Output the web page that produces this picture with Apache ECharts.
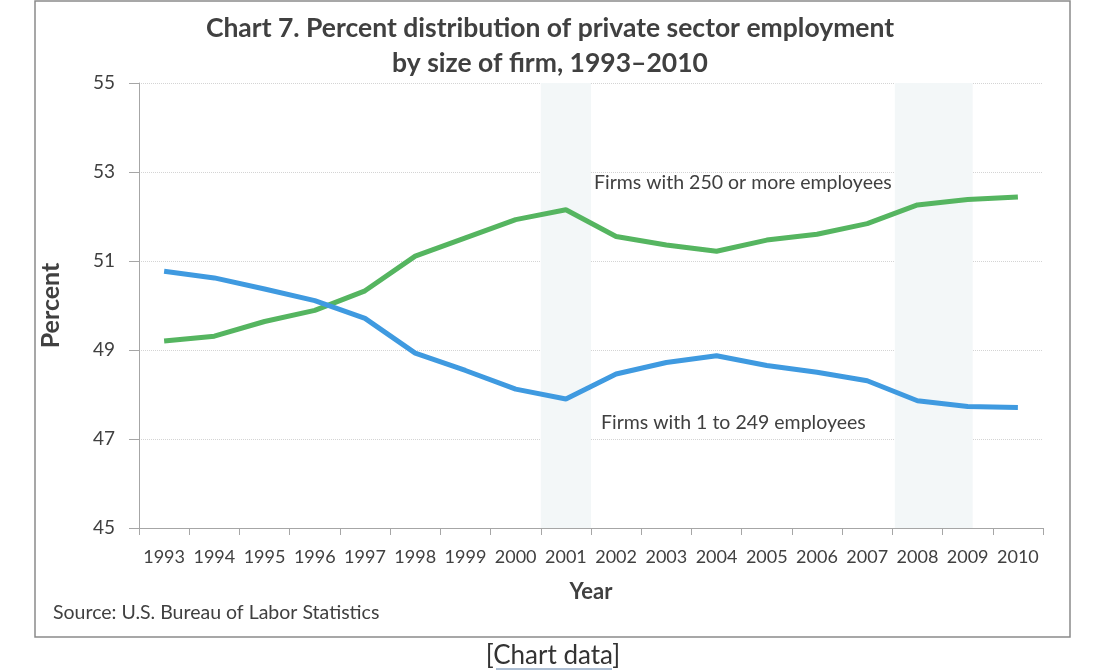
<!DOCTYPE html>
<html>
<head>
<meta charset="utf-8">
<script src="https://cdn.jsdelivr.net/npm/echarts@6/dist/echarts.min.js"></script>
<style>
html,body{margin:0;padding:0;background:#fff;}
#chart{width:1100px;height:671px;}
</style>
</head>
<body>
<div id="chart"></div>
<script>
const years = ['1993','1994','1995','1996','1997','1998','1999','2000','2001','2002','2003','2004','2005','2006','2007','2008','2009','2010'];
const large = [49.20,49.31,49.64,49.89,50.33,51.11,51.52,51.93,52.15,51.55,51.36,51.22,51.47,51.60,51.84,52.26,52.38,52.44];
const small = [50.77,50.62,50.37,50.11,49.71,48.93,48.54,48.12,47.90,48.46,48.72,48.87,48.65,48.50,48.31,47.86,47.73,47.71];
const recessions = [[2001, 2002], [2008.05, 2009.6]];
const yTicks = {min: 45, max: 55, interval: 2};
const titleText = 'Chart 7. Percent distribution of private sector employment\nby size of firm, 1993\u20132010';
const largeLabel = 'Firms with 250 or more employees';
const smallLabel = 'Firms with 1 to 249 employees';
const sourceText = 'Source: U.S. Bureau of Labor Statistics';

const FONT = 'Lato, "Open Sans", sans-serif';
const chart = echarts.init(document.getElementById('chart'));
chart.setOption({
  backgroundColor: '#ffffff',
  animation: false,
  title: {
    text: titleText,
    left: 'center',
    top: 6,
    textStyle: {fontFamily: FONT, fontSize: 26.5, fontWeight: 'bold', color: '#404040', lineHeight: 35}
  },
  grid: {left: 139, right: 57, top: 83, bottom: 143},
  xAxis: [{
    type: 'category',
    data: years,
    boundaryGap: true,
    name: 'Year',
    nameLocation: 'middle',
    nameGap: 53,
    nameTextStyle: {fontFamily: FONT, fontSize: 22, fontWeight: 'bold', color: '#404040'},
    axisLine: {lineStyle: {color: '#a6a6a6', width: 1}},
    axisTick: {show: true, length: 7, lineStyle: {color: '#a6a6a6'}},
    axisLabel: {fontFamily: FONT, fontSize: 18, color: '#404040', margin: 20, interval: 0},
    splitLine: {show: false}
  }, {
    type: 'value',
    min: 1993,
    max: 2011,
    show: false
  }],
  yAxis: {
    type: 'value',
    min: yTicks.min,
    max: yTicks.max,
    interval: yTicks.interval,
    name: 'Percent',
    nameLocation: 'middle',
    nameRotate: 90,
    nameGap: 76,
    nameTextStyle: {fontFamily: FONT, fontSize: 25, fontWeight: 'bold', color: '#404040'},
    axisLine: {show: true, lineStyle: {color: '#a6a6a6', width: 1}},
    axisTick: {show: true, inside: false, length: 10, lineStyle: {color: '#a6a6a6'}},
    axisLabel: {fontFamily: FONT, fontSize: 19, color: '#404040', margin: 24},
    splitLine: {show: true, lineStyle: {color: '#d4d4d4', type: 'dotted', width: 1}}
  },
  series: [{
    type: 'line',
    xAxisIndex: 1,
    data: [],
    silent: true,
    markArea: {
      silent: true,
      itemStyle: {color: '#f3f7f8'},
      data: recessions.map(r => [{xAxis: r[0]}, {xAxis: r[1]}])
    }
  }, {
    name: largeLabel,
    type: 'line',
    data: large,
    symbol: 'none',
    lineStyle: {color: '#55b560', width: 5},
    z: 3
  }, {
    name: smallLabel,
    type: 'line',
    data: small,
    symbol: 'none',
    lineStyle: {color: '#3f9ae0', width: 5},
    z: 3
  }],
  graphic: [
    {type: 'rect', shape: {x: 35, y: 1, width: 1035, height: 636}, style: {fill: null, stroke: '#8a8a8a', lineWidth: 1.5}, z: -10, silent: true},
    {type: 'text', x: 594, y: 183, style: {text: largeLabel, font: '19.5px ' + FONT, fill: '#404040', textVerticalAlign: 'middle'}},
    {type: 'text', x: 601, y: 423, style: {text: smallLabel, font: '19.5px ' + FONT, fill: '#404040', textVerticalAlign: 'middle'}},
    {type: 'text', x: 53, y: 613, style: {text: sourceText, font: '19.5px ' + FONT, fill: '#404040', textVerticalAlign: 'middle'}},
    {type: 'text', x: 553, y: 656, style: {text: '[Chart data]', font: '26px ' + FONT, fill: '#333333', textAlign: 'center', textVerticalAlign: 'middle'}},
    {type: 'line', shape: {x1: 496, y1: 669, x2: 612, y2: 669}, style: {stroke: '#5a7fa8', lineWidth: 1}}
  ]
});
</script>
</body>
</html>
